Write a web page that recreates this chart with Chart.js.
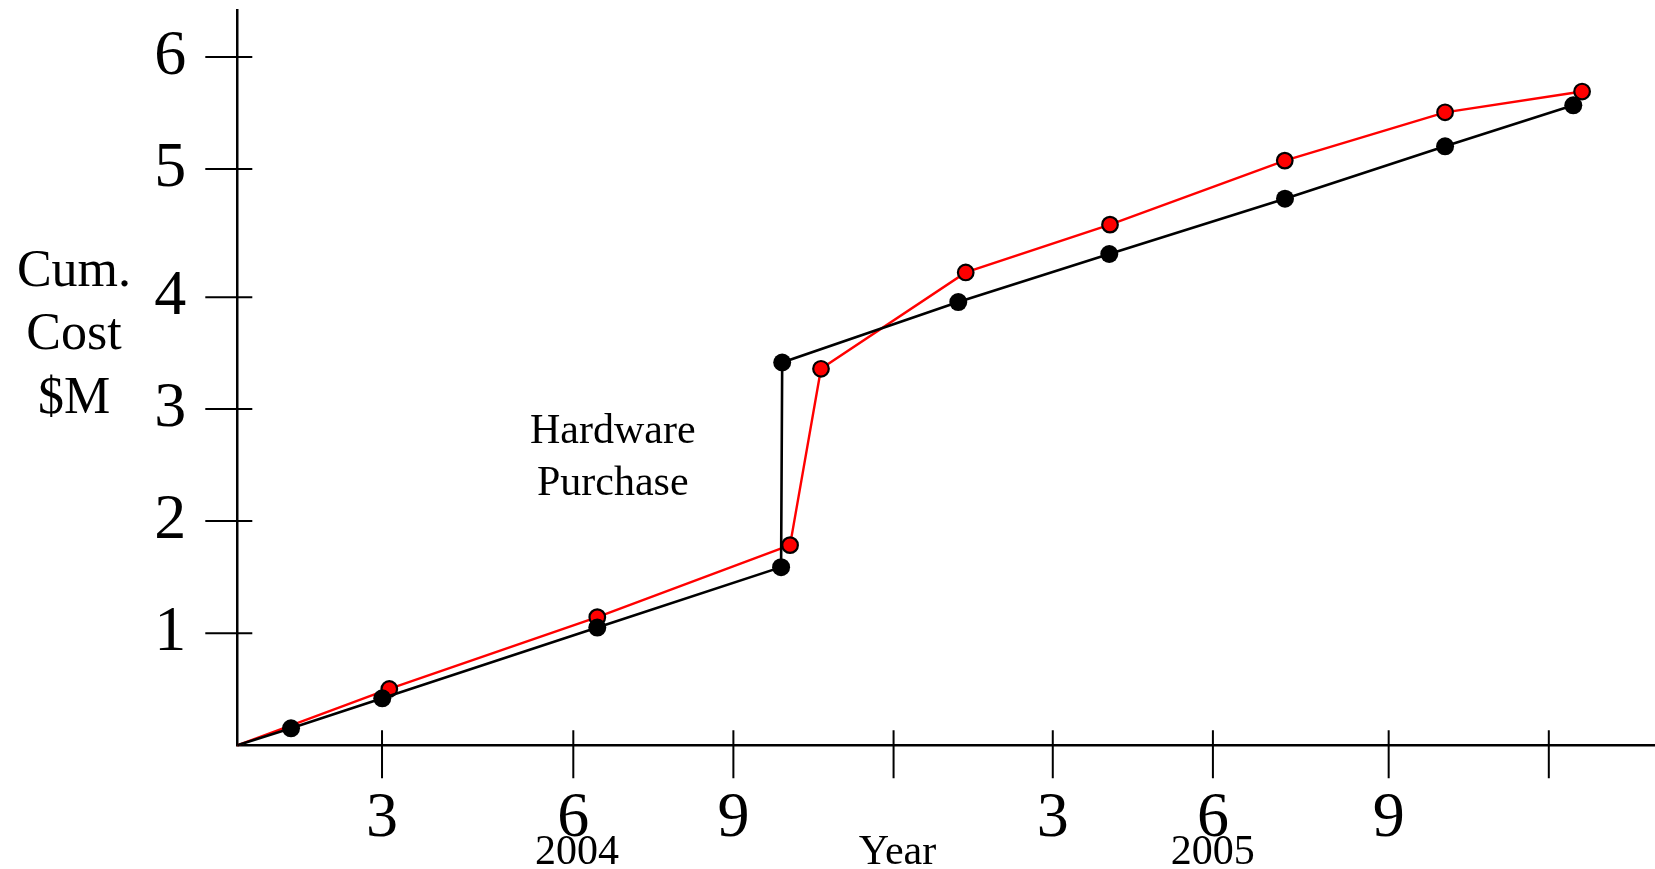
<!DOCTYPE html>
<html>
<head>
<meta charset="utf-8">
<script src="https://cdn.jsdelivr.net/npm/chart.js@4.4.1/dist/chart.umd.min.js"></script>
<style>
html, body { margin: 0; padding: 0; background: #fff; overflow: hidden; }
#wrap { width: 1655px; height: 869px; position: relative; }
canvas { display: block; }
</style>
</head>
<body>
<div id="wrap"><canvas id="costChart"></canvas></div>
<script>
// months counted from the start of 2004, cost in $M
const blackMonths = [0, 0.983, 2.653, 6.587, 9.95, 9.97, 13.192, 15.955, 19.17, 22.099, 24.445]
const blackCost = [0, 0.148, 0.410, 1.026, 1.553, 3.337, 3.864, 4.283, 4.765, 5.222, 5.579]
const redMonths = [0, 2.781, 6.587, 10.114, 10.68, 13.328, 15.968, 19.166, 22.099, 24.606]
const redCost = [0, 0.491, 1.117, 1.745, 3.282, 4.122, 4.539, 5.097, 5.518, 5.699]

// the ticks on the original are hand placed, so they are not evenly spaced
const xTickValues = [2.648, 6.148, 9.077, 12.008, 14.921, 17.851, 21.067, 23.997]
const xTickLabels = ['3', '6', '9', '', '3', '6', '9', '']
const yTickValues = [0.977, 1.955, 2.931, 3.906, 5.024, 6.0]
const yTickLabels = ['1', '2', '3', '4', '5', '6']

const yearLabels = ['2004', 'Year', '2005']
const yearLabelMonths = [6.215, 12.08, 17.85]
const yTitleLines = ['Cum.', 'Cost', '$M']
const noteLines = ['Hardware', 'Purchase']
const notePoint = [6.87, 2.73]

const serif = "'Liberation Serif', 'Times New Roman', serif"
Chart.defaults.font.family = serif
Chart.defaults.color = '#000'

function toPoints(xs, ys) {
    return xs.map((x, i) => ({ x: x, y: ys[i] }))
}

// crossing tick marks and the free text
const extras = {
    id: 'extras',
    beforeDatasetsDraw(chart) {
        const ctx = chart.ctx
        const area = chart.chartArea
        const xs = chart.scales.x, ys = chart.scales.y
        ctx.save()
        ctx.strokeStyle = '#000'
        ctx.lineWidth = 2
        ctx.beginPath()
        xTickValues.forEach(v => {
            const px = xs.getPixelForValue(v)
            ctx.moveTo(px, area.bottom - 15)
            ctx.lineTo(px, area.bottom + 33)
        })
        yTickValues.forEach(v => {
            const py = ys.getPixelForValue(v)
            ctx.moveTo(area.left - 32, py)
            ctx.lineTo(area.left + 15, py)
        })
        ctx.stroke()
        ctx.restore()
    },
    afterDraw(chart) {
        const ctx = chart.ctx
        const area = chart.chartArea
        const xs = chart.scales.x, ys = chart.scales.y
        ctx.save()
        ctx.fillStyle = '#000'
        ctx.textAlign = 'center'
        ctx.textBaseline = 'middle'

        ctx.font = '52px ' + serif
        yTitleLines.forEach((t, i) => ctx.fillText(t, 74, 272 + i * 63.5))

        ctx.font = '42px ' + serif
        noteLines.forEach((t, i) => {
            ctx.fillText(t, xs.getPixelForValue(notePoint[0]), ys.getPixelForValue(notePoint[1]) + i * 52)
        })

        yearLabels.forEach((t, i) => {
            ctx.fillText(t, xs.getPixelForValue(yearLabelMonths[i]), area.bottom + 108)
        })
        ctx.restore()
    }
}

new Chart(document.getElementById('costChart'), {
    type: 'line',
    data: {
        datasets: [{
            label: 'black',
            data: toPoints(blackMonths, blackCost),
            borderColor: '#000',
            borderWidth: 2.6,
            pointBackgroundColor: '#000',
            pointBorderWidth: 0,
            pointRadius: ctx => ctx.dataIndex == 0 ? 0 : 9,
            tension: 0,
            clip: false
        }, {
            label: 'red',
            data: toPoints(redMonths, redCost),
            borderColor: '#ff0000',
            borderWidth: 2.4,
            pointBackgroundColor: '#ff0000',
            pointBorderColor: '#000',
            pointBorderWidth: 2.2,
            pointRadius: ctx => ctx.dataIndex == 0 ? 0 : 7.8,
            tension: 0,
            clip: false
        }]
    },
    options: {
        responsive: true,
        maintainAspectRatio: false,
        animation: false,
        events: [],
        layout: { autoPadding: false, padding: { top: 10, left: 0, right: 0, bottom: 0 } },
        plugins: {
            legend: { display: false },
            tooltip: { enabled: false }
        },
        scales: {
            x: {
                type: 'linear',
                min: 0,
                max: 25.94,
                afterBuildTicks: s => { s.ticks = xTickValues.map(v => ({ value: v })) },
                afterFit: s => { s.height = 123.7; s.paddingLeft = 0; s.paddingRight = 0 },
                ticks: {
                    callback: (v, i) => xTickLabels[i],
                    autoSkip: false,
                    maxRotation: 0,
                    padding: 27,
                    font: { size: 64 }
                },
                grid: { display: false },
                border: { display: true, color: '#000', width: 2.5 }
            },
            y: {
                min: 0,
                max: 6.41,
                afterBuildTicks: s => { s.ticks = yTickValues.map(v => ({ value: v })) },
                afterFit: s => { s.width = 237.3; s.paddingTop = 0; s.paddingBottom = 0 },
                ticks: {
                    callback: (v, i) => yTickLabels[i],
                    autoSkip: false,
                    padding: 43,
                    font: { size: 64 }
                },
                grid: { display: false },
                border: { display: true, color: '#000', width: 2.5 }
            }
        }
    },
    plugins: [extras]
})
</script>
</body>
</html>
